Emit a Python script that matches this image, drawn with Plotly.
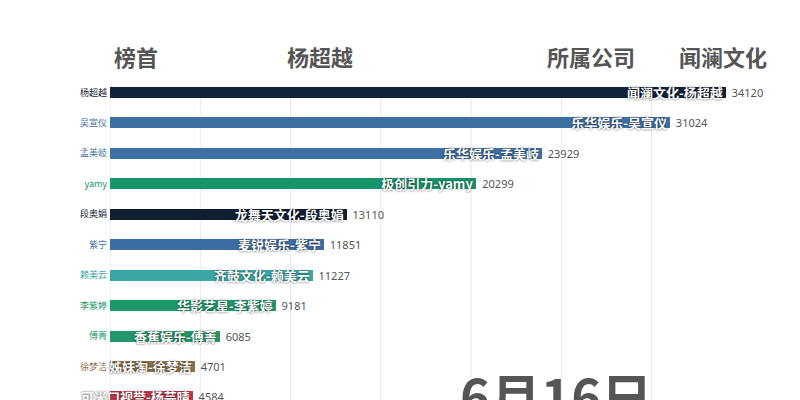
import plotly.graph_objects as go

# ---- data ----
names = ["杨超越", "吴宣仪", "孟美岐", "yamy", "段奥娟", "紫宁", "赖美云", "李紫婷", "傅菁", "徐梦洁", "杨芸晴"]
companies = ["闻澜文化", "乐华娱乐", "乐华娱乐", "极创引力", "龙舞天文化", "麦锐娱乐", "齐鼓文化", "华影艺星", "香蕉娱乐", "姊妹淘", "可米口视誉"]
values = [34120, 31024, 23929, 20299, 13110, 11851, 11227, 9181, 6085, 4701, 4584]
company_colors = {
    "闻澜文化": "#10233a",
    "乐华娱乐": "#3e6fa3",
    "极创引力": "#16946a",
    "龙舞天文化": "#0f1e31",
    "麦锐娱乐": "#3c6ea5",
    "齐鼓文化": "#3aa6a6",
    "华影艺星": "#1b9969",
    "香蕉娱乐": "#23966b",
    "姊妹淘": "#8b7048",
    "可米口视誉": "#c1344a",
}
grid_ticks = [0, 5000, 10000, 15000, 20000, 25000, 30000]
header_left = ["榜首", "杨超越"]
header_right = ["所属公司", "闻澜文化"]
date_label = "6月16日"

# ---- layout geometry ----
W, H = 800, 400
ML, MR, MT, MB = 110, 10, 86, 0
PW, PH = W - ML - MR, H - MT - MB
X_MAX = 37673
Y_TOP, Y_BOT = -0.21, 10.10

def px_x(p):
    return (p - ML) / PW

def px_y(p):
    return (H - MB - p) / PH

CJK = "Noto Sans CJK SC"
colors = [company_colors[c] for c in companies]
rows = list(range(len(names)))
labels = [f"{c}-{n}" for c, n in zip(companies, names)]

fig = go.Figure()
fig.add_trace(go.Bar(
    x=values, y=rows, orientation="h", width=0.36,
    marker=dict(color=colors, line=dict(width=0)),
    text=labels, textposition="inside", insidetextanchor="end",
    constraintext="none", cliponaxis=False,
    textfont=dict(family=CJK, size=13, color="white", weight="bold",
                  shadow="0px 0px 2px rgba(0,0,0,0.8)"),
    hoverinfo="skip", showlegend=False,
))
fig.add_trace(go.Bar(
    x=values, y=rows, orientation="h", width=0.36,
    marker=dict(color="rgba(0,0,0,0)", line=dict(width=0)),
    text=[" " + str(v) for v in values], textposition="outside",
    constraintext="none", cliponaxis=False,
    textfont=dict(family="Noto Sans", size=11, color="#555555"),
    hoverinfo="skip", showlegend=False,
))

for t in grid_ticks:
    fig.add_shape(type="line", xref="x", yref="paper", x0=t, x1=t, y0=0, y1=1,
                  line=dict(color="#e8e8e8", width=1), layer="below")

ticktext = [f'<span style="color:{c}">{n}</span>' for n, c in zip(names, colors)]

fig.update_layout(
    width=W, height=H,
    margin=dict(l=ML, r=MR, t=MT, b=MB, pad=0),
    paper_bgcolor="white", plot_bgcolor="white",
    barmode="overlay", bargap=0,
    font=dict(family=CJK),
    xaxis=dict(range=[0, X_MAX], showgrid=False, zeroline=False,
               showticklabels=False, showline=False, fixedrange=True),
    yaxis=dict(range=[Y_BOT, Y_TOP], tickvals=rows, ticktext=ticktext,
               showgrid=False, zeroline=False, showline=False, fixedrange=True,
               tickfont=dict(family=CJK, size=9, color="#333"),
               ticks="", ticklabelstandoff=2),
)

hdr_font = dict(family=CJK, size=22, color="#555555", weight="bold")
for txt, px in zip(header_left + header_right, [112, 285, 545, 677]):
    fig.add_annotation(text=txt, xref="paper", yref="paper", x=px_x(px), y=px_y(56),
                       xanchor="left", yanchor="middle", showarrow=False, font=hdr_font)

fig.add_annotation(text=date_label, xref="paper", yref="paper", x=px_x(458), y=px_y(356),
                   xanchor="left", yanchor="top", showarrow=False,
                   font=dict(family=CJK, size=51, color="#555555", weight="bold"))

fig.write_html(
    "out.html",
    config={"displayModeBar": False, "staticPlot": True},
    post_script="document.body.style.margin='0';document.body.style.padding='0';document.body.style.overflow='hidden';",
)
